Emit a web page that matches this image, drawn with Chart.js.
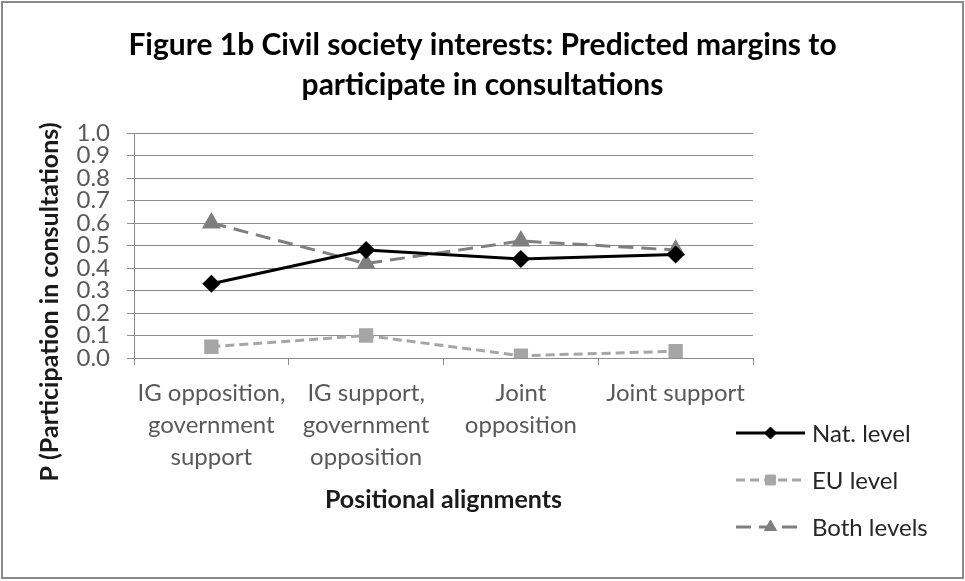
<!DOCTYPE html>
<html>
<head>
<meta charset="utf-8">
<script src="https://cdn.jsdelivr.net/npm/chart.js"></script>
<style>
  html, body { margin: 0; padding: 0; background: #fff; }
  #wrap { width: 965px; height: 581px; position: relative; }
</style>
</head>
<body>
<div id="wrap"><canvas id="chart"></canvas></div>
<script>
// Chart data
const categories = [
    ['IG opposition,', 'government', 'support'],
    ['IG support,', 'government', 'opposition'],
    ['Joint', 'opposition'],
    ['Joint support']
];
const natLevel = [0.33, 0.48, 0.44, 0.46];
const euLevel = [0.05, 0.10, 0.01, 0.03];
const bothLevels = [0.60, 0.42, 0.52, 0.48];
const seriesNames = ['Nat. level', 'EU level', 'Both levels'];
const titleLines = ['Figure 1b Civil society interests: Predicted margins to', 'participate in consultations'];
const yTitle = 'P (Participation in consultations)';
const xTitle = 'Positional alignments';

const FONT = 'Lato, "Open Sans", sans-serif';
const GRID = '#8c8c8c';

// Frame + white background, y axis title, and the Excel-style legend
const decorPlugin = {
    id: 'decor',
    beforeDraw(chart) {
        const ctx = chart.ctx;
        ctx.save();
        ctx.fillStyle = '#fff';
        ctx.fillRect(0, 0, chart.width, chart.height);
        ctx.strokeStyle = '#8a8a8a';
        ctx.lineWidth = 2;
        ctx.strokeRect(2, 2, chart.width - 4, chart.height - 5);
        ctx.restore();
    },
    afterDraw(chart) {
        const ctx = chart.ctx;
        const area = chart.chartArea;
        ctx.save();
        // y axis title
        ctx.translate(50, 302);
        ctx.rotate(-Math.PI / 2);
        ctx.font = 'bold 25px ' + FONT;
        ctx.fillStyle = '#1a1a1a';
        ctx.textAlign = 'center';
        ctx.textBaseline = 'middle';
        ctx.fillText(yTitle, 0, 0);
        ctx.restore();

        // legend
        const x0 = area.right - 17;
        const x1 = x0 + 69;
        chart.data.datasets.forEach((ds, i) => {
            const y = 433 + i * 47;
            ctx.save();
            ctx.strokeStyle = ds.borderColor;
            ctx.lineWidth = ds.borderWidth;
            ctx.setLineDash(ds.borderDash || []);
            ctx.beginPath();
            ctx.moveTo(x0, y);
            ctx.lineTo(x1, y);
            ctx.stroke();
            ctx.setLineDash([]);
            ctx.fillStyle = ds.pointBackgroundColor;
            ctx.strokeStyle = ds.pointBorderColor;
            ctx.lineWidth = 1;
            Chart.helpers.drawPoint(ctx, {
                pointStyle: ds.pointStyle,
                radius: ds.pointRadius - 1,
                borderWidth: 1,
                rotation: 0
            }, (x0 + x1) / 2, y);
            ctx.font = '24px ' + FONT;
            ctx.fillStyle = '#262626';
            ctx.textAlign = 'left';
            ctx.textBaseline = 'middle';
            ctx.fillText(ds.label, x1 + 7, y + 1);
            ctx.restore();
        });
    }
};

new Chart(document.getElementById('chart'), {
    type: 'line',
    data: {
        labels: categories,
        datasets: [
            {
                label: seriesNames[0],
                data: natLevel,
                borderColor: '#000',
                borderWidth: 3,
                pointStyle: 'rectRot',
                pointRadius: 7,
                pointBackgroundColor: '#000',
                pointBorderColor: '#000'
            },
            {
                label: seriesNames[1],
                data: euLevel,
                borderColor: '#a6a6a6',
                borderWidth: 3,
                borderDash: [9, 5],
                pointStyle: 'rect',
                pointRadius: 8,
                pointBackgroundColor: '#a6a6a6',
                pointBorderColor: '#a6a6a6'
            },
            {
                label: seriesNames[2],
                data: bothLevels,
                borderColor: '#7f7f7f',
                borderWidth: 3,
                borderDash: [15, 8],
                pointStyle: 'triangle',
                pointRadius: 8,
                pointBackgroundColor: '#7f7f7f',
                pointBorderColor: '#7f7f7f'
            }
        ]
    },
    options: {
        responsive: true,
        maintainAspectRatio: false,
        animation: false,
        layout: { padding: { left: 0, right: 0, top: 0, bottom: 66 } },
        plugins: {
            legend: { display: false },
            tooltip: { enabled: false },
            title: {
                display: true,
                text: titleLines,
                color: '#000',
                font: { family: FONT, size: 30, weight: 'bold', lineHeight: 40 / 30 },
                padding: { top: 25, bottom: 28 }
            }
        },
        scales: {
            x: {
                offset: true,
                grid: { offset: true, drawOnChartArea: false, tickLength: 7, color: GRID },
                border: { color: GRID },
                ticks: {
                    color: '#595959',
                    font: { family: FONT, size: 24, lineHeight: 32 / 24 },
                    padding: 12,
                    maxRotation: 0,
                    autoSkip: false
                },
                title: {
                    display: true,
                    text: xTitle,
                    color: '#1a1a1a',
                    font: { family: FONT, size: 25, weight: 'bold' },
                    padding: { top: 0, bottom: 0 }
                }
            },
            y: {
                min: 0,
                max: 1,
                grid: { color: GRID, tickLength: 7 },
                border: { color: GRID },
                ticks: {
                    stepSize: 0.1,
                    autoSkip: false,
                    color: '#595959',
                    font: { family: FONT, size: 24, lineHeight: 1 },
                    padding: 17,
                    callback: v => v.toFixed(1)
                },
                afterFit(scale) { scale.width = 134; }
            },
            spacer: {
                type: 'linear',
                position: 'right',
                display: true,
                grid: { display: false },
                border: { display: false },
                ticks: { display: false },
                afterFit(scale) { scale.width = 212; }
            }
        }
    },
    plugins: [decorPlugin]
});
</script>
</body>
</html>
